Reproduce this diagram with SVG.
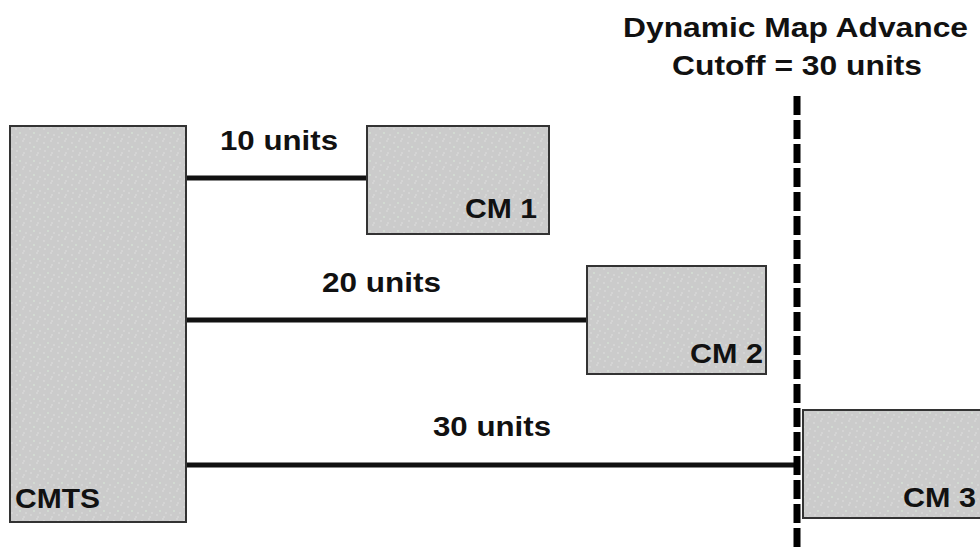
<svg xmlns="http://www.w3.org/2000/svg" width="980" height="548" viewBox="0 0 980 548">
  <style>
    .box { fill: url(#stipple); stroke: #333333; stroke-width: 2; }
    .lbl { font-family: "Liberation Sans", Arial, sans-serif; font-weight: bold; font-size: 28px; fill: #111111; }
    .wire { stroke: #111111; stroke-width: 5; fill: none; }
    .cut { stroke: #000000; stroke-width: 7; stroke-dasharray: 19 5; fill: none; }
  </style>
  <defs>
    <pattern id="stipple" x="0" y="0" width="14" height="14" patternUnits="userSpaceOnUse">
      <rect width="14" height="14" fill="#cbcbcb"/>
      <circle cx="2" cy="3" r="0.7" fill="#e6e6e6"/>
      <circle cx="9" cy="1" r="0.7" fill="#e6e6e6"/>
      <circle cx="6" cy="7" r="0.7" fill="#dff5df"/>
      <circle cx="12" cy="9" r="0.7" fill="#e6e6e6"/>
      <circle cx="3" cy="11" r="0.7" fill="#e6e6e6"/>
      <circle cx="10" cy="13" r="0.7" fill="#e6e6e6"/>
    </pattern>
  </defs>
  <rect width="980" height="548" fill="#ffffff"/>

  <g id="connectors">
    <line class="wire" x1="186" y1="178" x2="367" y2="178"/>
    <line class="wire" x1="186" y1="320" x2="587" y2="320"/>
    <line class="wire" x1="186" y1="465" x2="797" y2="465"/>
    <line class="cut" x1="797" y1="96" x2="797" y2="548"/>
  </g>

  <g id="cmts">
    <rect class="box" x="10" y="126" width="176" height="396"/>
    <text class="lbl" x="15" y="508" textLength="85" lengthAdjust="spacingAndGlyphs">CMTS</text>
  </g>

  <g id="cm1">
    <rect class="box" x="367" y="126" width="182" height="108"/>
    <text class="lbl" x="465" y="218" textLength="72" lengthAdjust="spacingAndGlyphs">CM 1</text>
  </g>

  <g id="cm2">
    <rect class="box" x="587" y="266" width="179" height="108"/>
    <text class="lbl" x="690" y="363" textLength="73" lengthAdjust="spacingAndGlyphs">CM 2</text>
  </g>

  <g id="cm3">
    <rect class="box" x="803" y="410" width="190" height="108"/>
    <text class="lbl" x="903" y="507" textLength="73" lengthAdjust="spacingAndGlyphs">CM 3</text>
  </g>

  <g id="labels">
    <text class="lbl" x="220" y="150" textLength="118" lengthAdjust="spacingAndGlyphs">10 units</text>
    <text class="lbl" x="322" y="292" textLength="119" lengthAdjust="spacingAndGlyphs">20 units</text>
    <text class="lbl" x="433" y="436" textLength="118" lengthAdjust="spacingAndGlyphs">30 units</text>
    <text class="lbl" x="623" y="37" textLength="345" lengthAdjust="spacingAndGlyphs">Dynamic Map Advance</text>
    <text class="lbl" x="672" y="75" textLength="250" lengthAdjust="spacingAndGlyphs">Cutoff = 30 units</text>
  </g>
</svg>
